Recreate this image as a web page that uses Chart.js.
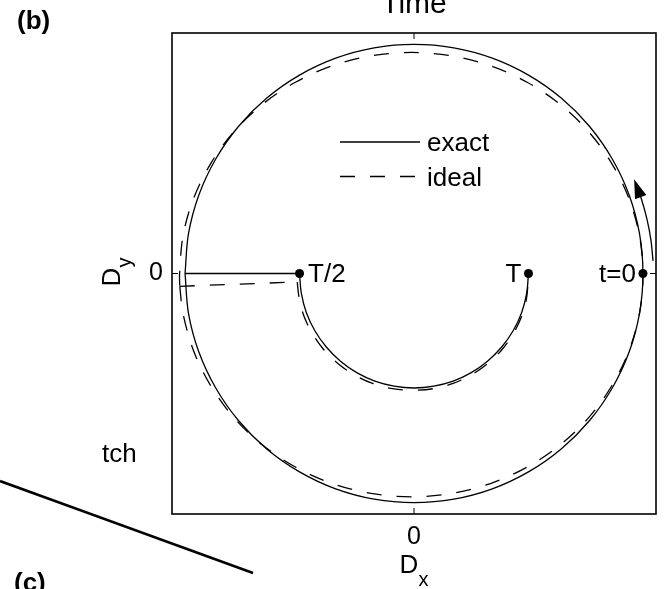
<!DOCTYPE html>
<html>
<head>
<meta charset="utf-8">
<title>Dx / Dy trajectory</title>
<script src="https://cdn.jsdelivr.net/npm/chart.js@4.4.1/dist/chart.umd.min.js"></script>
<style>
  html, body { margin: 0; padding: 0; background: #fff; }
  #wrap { position: relative; width: 664px; height: 589px; overflow: hidden; }
  #wrap canvas, #wrap svg { position: absolute; left: 0; top: 0; }
  #wrap svg { pointer-events: none; font-family: 'Liberation Sans', Arial, Helvetica, sans-serif; }
</style>
</head>
<body>
<div id="wrap">
  <canvas id="myChart" width="664" height="589"></canvas>
  <!-- bits of the neighbouring panels -->
  <svg width="664" height="589">
    <text x="17" y="29" font-size="26" font-weight="bold">(b)</text>
    <text x="102" y="462" font-size="26">tch</text>
    <text x="14" y="591" font-size="26" font-weight="bold">(c)</text>
    <line x1="0" y1="481" x2="253" y2="573" stroke="#000" stroke-width="2.6"/>
  </svg>
</div>
<script>
const FONT = "'Liberation Sans', Arial, Helvetica, sans-serif"

// exact trajectory: big loop, jump to T/2, half loop back to T
const exactOuterX = [-1, -0.985, -0.94, -0.866, -0.766, -0.643, -0.5, -0.342, -0.174, 0, 0.174, 0.342, 0.5, 0.643, 0.766, 0.866, 0.94, 0.985, 1, 0.985, 0.94, 0.866, 0.766, 0.643, 0.5, 0.342, 0.174, 0, -0.174, -0.342, -0.5, -0.643, -0.766, -0.866, -0.94, -0.985, -1]
const exactOuterY = [0, -0.174, -0.342, -0.5, -0.643, -0.766, -0.866, -0.94, -0.985, -1, -0.985, -0.94, -0.866, -0.766, -0.643, -0.5, -0.342, -0.174, 0, 0.174, 0.342, 0.5, 0.643, 0.766, 0.866, 0.94, 0.985, 1, 0.985, 0.94, 0.866, 0.766, 0.643, 0.5, 0.342, 0.174, 0]
const exactLinkX = [-1, -0.5]
const exactLinkY = [0, 0]
const exactInnerX = [-0.5, -0.492, -0.47, -0.433, -0.383, -0.321, -0.25, -0.171, -0.087, 0, 0.087, 0.171, 0.25, 0.321, 0.383, 0.433, 0.47, 0.492, 0.5]
const exactInnerY = [0, -0.087, -0.171, -0.25, -0.321, -0.383, -0.433, -0.47, -0.492, -0.5, -0.492, -0.47, -0.433, -0.383, -0.321, -0.25, -0.171, -0.087, 0]

// ideal trajectory
const idealOuterX = [-1.023, -1.009, -0.963, -0.888, -0.787, -0.663, -0.518, -0.358, -0.188, -0.012, 0.164, 0.334, 0.494, 0.639, 0.763, 0.864, 0.939, 0.985, 1.0, 0.985, 0.939, 0.864, 0.763, 0.639, 0.494, 0.334, 0.164, -0.012, -0.188, -0.358, -0.518, -0.663, -0.787, -0.888, -0.963, -1.009, -1.024, -1.023]
const idealOuterY = [-0.056, -0.174, -0.337, -0.490, -0.629, -0.748, -0.845, -0.917, -0.960, -0.975, -0.960, -0.917, -0.845, -0.748, -0.629, -0.490, -0.337, -0.174, -0.005, 0.164, 0.327, 0.480, 0.619, 0.738, 0.835, 0.907, 0.950, 0.965, 0.950, 0.907, 0.835, 0.738, 0.619, 0.480, 0.327, 0.164, -0.005, -0.056]
const idealLinkX = [-1.023, -0.510]
const idealLinkY = [-0.056, -0.037]
const idealInnerX = [-0.510, -0.502, -0.480, -0.442, -0.392, -0.330, -0.258, -0.178, -0.093, -0.005, 0.083, 0.168, 0.248, 0.320, 0.382, 0.432, 0.470, 0.492, 0.500]
const idealInnerY = [-0.037, -0.105, -0.188, -0.265, -0.335, -0.395, -0.444, -0.481, -0.503, -0.510, -0.503, -0.481, -0.444, -0.395, -0.335, -0.265, -0.188, -0.105, -0.003]

// direction arrow just outside t=0
const arrowX = [1.044, 1.035, 1.018, 0.994, 0.969]
const arrowY = [0.055, 0.145, 0.235, 0.323, 0.391]

// time stamps
const markX = [1, -0.5, 0.5]
const markY = [0, 0, 0]
const markLabels = ['t=0', 'T/2', 'T']
const markSide = ['left', 'right', 'left']

const seriesNames = ['exact', 'ideal']
const axisTicks = [0]
const xLimit = 1.057
const yLimit = 1.05

const pts = (xs, ys) => xs.map((v, i) => ({x: v, y: ys[i]}))

const solid = {borderColor: '#000', borderWidth: 1.3, pointRadius: 0, showLine: true, fill: false}
const dashed = {...solid, borderDash: [15, 15]}

// index of the helper datasets
const MARKS = 0
const ARROW = 1
const LEGEND_SETS = [2, 5]

function seg(ctx, x1, y1, x2, y2) {
    ctx.beginPath()
    ctx.moveTo(x1, y1)
    ctx.lineTo(x2, y2)
    ctx.stroke()
}

const decorations = {
    id: 'decorations',
    afterDatasetsDraw(chart) {
        const {ctx, chartArea: a, scales} = chart
        const sx = scales.x, sy = scales.y
        ctx.save()
        ctx.strokeStyle = '#000'
        ctx.fillStyle = '#000'

        // frame
        ctx.lineWidth = 1.6
        ctx.strokeRect(a.left, a.top, a.right - a.left, a.bottom - a.top)

        // ticks pointing in, on all four sides
        ctx.lineWidth = 1
        axisTicks.forEach(v => {
            const px = sx.getPixelForValue(v)
            const py = sy.getPixelForValue(v)
            seg(ctx, px, a.bottom, px, a.bottom - 6)
            seg(ctx, px, a.top, px, a.top + 6)
            seg(ctx, a.left, py, a.left + 6, py)
            seg(ctx, a.right, py, a.right - 6, py)
        })

        // arrow head
        const arr = chart.getDatasetMeta(ARROW).data
        const p = arr[arr.length - 1], q = arr[arr.length - 2]
        ctx.save()
        ctx.translate(p.x, p.y)
        ctx.rotate(Math.atan2(p.y - q.y, p.x - q.x))
        ctx.beginPath()
        ctx.moveTo(5, 0)
        ctx.lineTo(-14, -6)
        ctx.lineTo(-14, 6)
        ctx.closePath()
        ctx.fill()
        ctx.restore()

        // labels next to the time stamps
        ctx.font = '26px ' + FONT
        ctx.textBaseline = 'middle'
        chart.getDatasetMeta(MARKS).data.forEach((pt, i) => {
            const right = markSide[i] === 'right'
            ctx.textAlign = right ? 'left' : 'right'
            ctx.fillText(markLabels[i], pt.x + (right ? 8.5 : -7), pt.y + 1)
        })

        // legend inside the axes
        const lx = a.left + 168, ly = a.top + 109
        LEGEND_SETS.forEach((di, k) => {
            const ds = chart.data.datasets[di]
            const yy = ly + k * 34.5
            ctx.lineWidth = ds.borderWidth
            ctx.setLineDash(ds.borderDash || [])
            seg(ctx, lx, yy, lx + 80, yy)
            ctx.setLineDash([])
            ctx.textAlign = 'left'
            ctx.fillText(seriesNames[k], lx + 87, yy + 2)
        })

        // axis names with subscripts
        const cx = (a.left + a.right) / 2
        ctx.textBaseline = 'alphabetic'
        ctx.textAlign = 'left'
        ctx.font = '26px ' + FONT
        const wD = ctx.measureText('D').width
        ctx.font = '20px ' + FONT
        const wx = ctx.measureText('x').width
        const wy = ctx.measureText('y').width
        let x0 = cx - (wD + wx) / 2
        ctx.font = '26px ' + FONT
        ctx.fillText('D', x0, 573)
        ctx.font = '20px ' + FONT
        ctx.fillText('x', x0 + wD, 586)

        ctx.save()
        ctx.translate(120, (a.top + a.bottom) / 2 - 1.5)
        ctx.rotate(-Math.PI / 2)
        x0 = -(wD + wy) / 2
        ctx.font = '26px ' + FONT
        ctx.fillText('D', x0, 0)
        ctx.font = '20px ' + FONT
        ctx.fillText('y', x0 + wD, 11)
        ctx.restore()

        // title, cut off by the top edge
        ctx.font = '30px ' + FONT
        ctx.textAlign = 'center'
        ctx.fillText('Time', cx, 13)

        ctx.restore()
    }
}

const ctx = document.getElementById('myChart')
new Chart(ctx, {
    type: 'scatter',
    data: {
        datasets: [
            {label: 'stamps', data: pts(markX, markY), pointRadius: 4.5, pointBackgroundColor: '#000', pointBorderWidth: 0, showLine: false},
            {...solid, label: 'arrow', data: pts(arrowX, arrowY), tension: 0.3},
            {...solid, label: seriesNames[0], data: pts(exactOuterX, exactOuterY), tension: 0.33},
            {...solid, label: seriesNames[0], data: pts(exactLinkX, exactLinkY)},
            {...solid, label: seriesNames[0], data: pts(exactInnerX, exactInnerY), tension: 0.33},
            {...dashed, label: seriesNames[1], data: pts(idealOuterX, idealOuterY), tension: 0.33},
            {...dashed, label: seriesNames[1], data: pts(idealLinkX, idealLinkY)},
            {...dashed, label: seriesNames[1], data: pts(idealInnerX, idealInnerY), tension: 0.33}
        ]
    },
    options: {
        responsive: false,
        animation: false,
        devicePixelRatio: 1,
        layout: {padding: {left: 0, top: 33, right: 8, bottom: 0}},
        plugins: {legend: {display: false}, tooltip: {enabled: false}},
        scales: {
            x: {
                type: 'linear', min: -xLimit, max: xLimit,
                grid: {display: false, drawTicks: false},
                border: {display: false},
                ticks: {padding: 8, color: '#000', font: {size: 25, family: FONT}},
                afterBuildTicks: s => { s.ticks = axisTicks.map(v => ({value: v})) },
                afterFit: s => { s.height = 75 }
            },
            y: {
                type: 'linear', min: -yLimit, max: yLimit,
                grid: {display: false, drawTicks: false},
                border: {display: false},
                ticks: {padding: 9, color: '#000', font: {size: 25, family: FONT}},
                afterBuildTicks: s => { s.ticks = axisTicks.map(v => ({value: v})) },
                afterFit: s => { s.width = 172 }
            }
        }
    },
    plugins: [decorations]
});
</script>
</body>
</html>
